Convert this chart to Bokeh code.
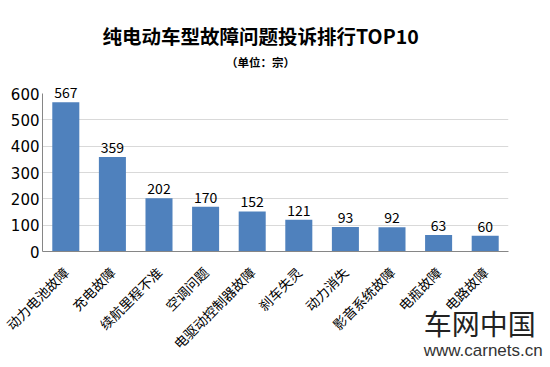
import math
from bokeh.plotting import figure
from bokeh.models import ColumnDataSource, FixedTicker, Range1d, FactorRange
from bokeh.core.properties import value
from bokeh.embed import file_html
from bokeh.resources import INLINE

categories = ["动力电池故障", "充电故障", "续航里程不准", "空调问题", "电驱动控制器故障",
              "刹车失灵", "动力消失", "影音系统故障", "电瓶故障", "电路故障"]
values = [567, 359, 202, 170, 152, 121, 93, 92, 63, 60]
y_ticks = [0, 100, 200, 300, 400, 500, 600]
title_text = "纯电动车型故障问题投诉排行TOP10"
subtitle_text = "（单位：宗）"

FONT = "Noto Sans CJK SC"

p = figure(x_range=FactorRange(*categories, range_padding=0), y_range=Range1d(0, 600),
           width=550, height=367, output_backend="svg", toolbar_location=None,
           title=None, min_border_left=42, min_border_right=42,
           min_border_top=93, min_border_bottom=116)

src = ColumnDataSource(dict(cat=categories, val=values, lbl=[str(v) for v in values]))
p.vbar(x="cat", top="val", width=0.58, source=src, fill_color="#4F81BD", line_color=None)

p.text(x="cat", y="val", text="lbl", source=src, y_offset=-4, level="overlay",
       text_align="center", text_baseline="bottom",
       text_font=value(FONT), text_font_size="14px", text_color="#000000")

# titles (drawn as unclipped overlay text above the plot frame)
p.text(x=[4.68], y=[820], text=[title_text], level="overlay",
       text_font=value(FONT), text_font_size="19.5px", text_font_style="bold",
       text_color="#000000", text_align="center", text_baseline="middle")
p.text(x=[4.68], y=[718], text=[subtitle_text], level="overlay",
       text_font=value(FONT), text_font_size="11.5px", text_font_style="bold",
       text_color="#000000", text_align="center", text_baseline="middle")

p.yaxis.ticker = FixedTicker(ticks=y_ticks)
p.yaxis.major_label_text_font = "DejaVu Sans"
p.yaxis.major_label_text_font_size = "15px"
p.yaxis.major_label_text_color = "#000000"
p.yaxis.major_tick_out = 0
p.yaxis.major_tick_in = 0
p.yaxis.minor_tick_line_color = None
p.yaxis.axis_line_color = "#868686"
p.yaxis.major_label_standoff = 3

p.xaxis.major_label_orientation = math.pi / 4
p.xaxis.major_label_text_font = FONT
p.xaxis.major_label_text_font_size = "13.5px"
p.xaxis.major_label_text_color = "#000000"
p.xaxis.major_tick_out = 0
p.xaxis.major_tick_in = 0
p.xaxis.axis_line_color = "#868686"
p.xaxis.major_label_standoff = 18

p.xgrid.grid_line_color = None
p.ygrid.grid_line_color = "#d9d9d9"
p.outline_line_color = None

# watermark
p.text(x=[8.18], y=[-273], text=["车网中国"], level="overlay",
       text_font=value(FONT), text_font_size="28px", text_color="#222222",
       text_baseline="middle", text_align="left")
p.text(x=[8.18], y=[-376], text=["www.carnets.cn"], level="overlay",
       text_font=value("Liberation Sans"), text_font_size="17px", text_color="#333333",
       text_baseline="middle", text_align="left")

open("out.html", "w").write(file_html(p, INLINE))
